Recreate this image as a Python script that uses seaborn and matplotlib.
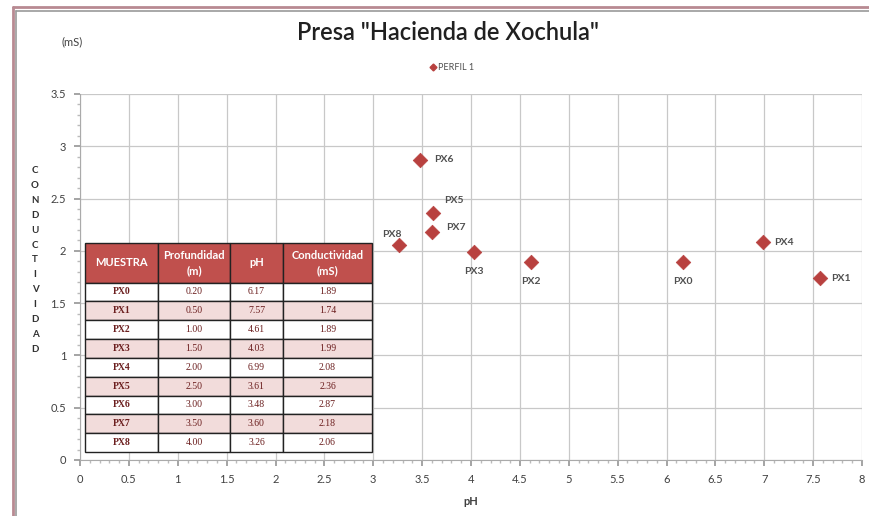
import matplotlib
matplotlib.use("Agg")
import numpy as np
import pandas as pd
import seaborn as sns
from matplotlib import pyplot as plt
from matplotlib.lines import Line2D
from matplotlib.ticker import MultipleLocator

muestras = ["PX0", "PX1", "PX2", "PX3", "PX4", "PX5", "PX6", "PX7", "PX8"]
profundidad = [0.20, 0.50, 1.00, 1.50, 2.00, 2.50, 3.00, 3.50, 4.00]
ph = [6.17, 7.57, 4.61, 4.03, 6.99, 3.61, 3.48, 3.60, 3.26]
conductividad = [1.89, 1.74, 1.89, 1.99, 2.08, 2.36, 2.87, 2.18, 2.06]

x_ticks = np.arange(0, 8.01, 0.5)
y_ticks = np.arange(0, 3.51, 0.5)

# label offsets (points) per sample
label_pos = {
    "PX0": (0, -14, "center"),
    "PX1": (8, 0, "left"),
    "PX2": (0, -14, "center"),
    "PX3": (0, -14, "center"),
    "PX4": (8, 0, "left"),
    "PX5": (8, 9, "left"),
    "PX6": (10, 0, "left"),
    "PX7": (10, 3, "left"),
    "PX8": (-5, 7, "center"),
}

df = pd.DataFrame({"MUESTRA": muestras, "pH": ph, "Conductividad": conductividad})

red = "#c0504d"
marker_red = "#b8413f"
grid_col = "#c8c8c8"
text_col = "#404040"

sns.set_theme(style="white")
plt.rcParams["font.family"] = ["Lato", "DejaVu Sans"]

fig = plt.figure(figsize=(8.69, 5.16), dpi=100)
ax = fig.add_axes([80 / 869, 1 - 460 / 516, 782 / 869, 366 / 516])

sns.scatterplot(data=df, x="pH", y="Conductividad", ax=ax, marker="D", s=55,
                color=marker_red, edgecolor=marker_red, linewidth=0.5, zorder=5,
                legend=False)

for m, x, y in zip(muestras, ph, conductividad):
    dx, dy, ha = label_pos[m]
    ax.annotate(m, (x, y), xytext=(dx, dy), textcoords="offset points",
                ha=ha, va="center", fontsize=7.5, fontweight="bold", color="#505050")

ax.set_xlim(0, 8)
ax.set_ylim(0, 3.5)
ax.set_xticks(x_ticks)
ax.set_xticklabels([f"{v:g}" for v in x_ticks])
ax.set_yticks(y_ticks)
ax.set_yticklabels([f"{v:g}" for v in y_ticks])
ax.xaxis.set_minor_locator(MultipleLocator(0.1))
ax.yaxis.set_minor_locator(MultipleLocator(0.1))
ax.grid(True, which="major", color=grid_col, linewidth=0.9)
ax.tick_params(which="major", length=4, color="#999999", labelsize=8,
               labelcolor=text_col, bottom=True, left=True, pad=6)
ax.tick_params(which="minor", length=2, color="#bbbbbb", bottom=True, left=True)
for s in ["top", "right"]:
    ax.spines[s].set_visible(False)
for s in ["left", "bottom"]:
    ax.spines[s].set_color("#aaaaaa")
    ax.spines[s].set_linewidth(0.8)
ax.set_xlabel("pH", fontsize=8, fontweight="bold", color=text_col, labelpad=8)
ax.set_ylabel("")

# vertical stacked y label
fig.text(35 / 869, 1 - 260 / 516, "\n".join("CONDUCTIVIDAD"), ha="center",
         va="center", fontsize=7, fontweight="bold", color="#303030",
         linespacing=1.85)
fig.text(72 / 869, 1 - 42 / 516, "(mS)", ha="center", va="center",
         fontsize=8, color=text_col)
fig.text(448 / 869, 1 - 33 / 516, 'Presa "Hacienda de Xochula"', ha="center",
         va="center", fontsize=17, fontweight="semibold", color="#202020")

handle = Line2D([], [], marker="D", linestyle="", color=marker_red, markersize=3.5)
fig.legend([handle], ["PERFIL 1"], loc="center", bbox_to_anchor=(452 / 869, 1 - 68 / 516),
           frameon=False, fontsize=6.5, handletextpad=0.2, labelcolor="#505050",
           borderpad=0, handlelength=0.8)

# data table
header = ["MUESTRA", "Profundidad\n(m)", "pH", "Conductividad\n(mS)"]
rows = [[m, f"{p:.2f}", f"{h:.2f}", f"{c:.2f}"]
        for m, p, h, c in zip(muestras, profundidad, ph, conductividad)]
col_w = [73, 72, 53, 89]
x0 = (85 - 80) / 782
x1 = (372 - 80) / 782
y0 = (460 - 452) / 366
y1 = (460 - 243) / 366
tab = ax.table(cellText=rows, colLabels=header, colWidths=[w / sum(col_w) for w in col_w],
               bbox=[x0, y0, x1 - x0, y1 - y0], cellLoc="center", zorder=6)
tab.auto_set_font_size(False)
for (r, c), cell in tab.get_celld().items():
    cell.set_edgecolor("#222222")
    cell.set_linewidth(1.0)
    if r == 0:
        cell.set_facecolor(red)
        cell.set_height(cell.get_height() * 2.1)
        cell.get_text().set_color("white")
        cell.get_text().set_fontweight("bold")
        cell.get_text().set_fontsize(8)
        cell.get_text().set_fontfamily(["Lato", "DejaVu Sans"])
        cell.get_text().set_linespacing(1.5)
    else:
        cell.set_facecolor("#f2dcdb" if r % 2 == 0 else "white")
        cell.get_text().set_color("#6b1e1e")
        cell.get_text().set_fontsize(7)
        cell.get_text().set_fontfamily(["Liberation Serif", "DejaVu Serif"])
        if c == 0:
            cell.get_text().set_fontweight("bold")

# outer double frame
for xs, ys, col, lw in [
    ([13 / 869, 13 / 869], [0, 1 - 7 / 516], "#b88a92", 2.0),
    ([16 / 869, 16 / 869], [0, 1 - 11 / 516], "#9a9a9a", 1.2),
    ([13 / 869, 1], [1 - 7 / 516, 1 - 7 / 516], "#b88a92", 2.0),
    ([16 / 869, 1], [1 - 11 / 516, 1 - 11 / 516], "#9a9a9a", 1.2),
]:
    fig.add_artist(Line2D(xs, ys, transform=fig.transFigure, color=col, linewidth=lw))

fig.savefig("out.png", dpi=100)
